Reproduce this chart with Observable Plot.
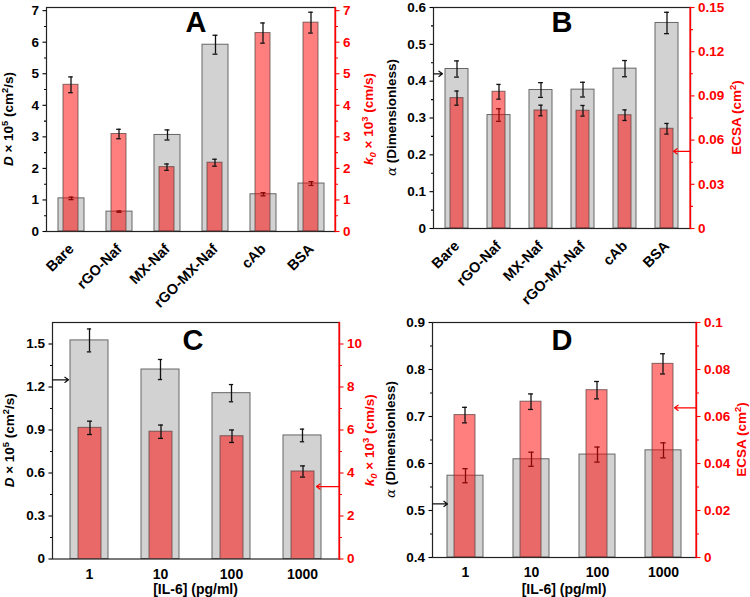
<!DOCTYPE html>
<html>
<head>
<meta charset="utf-8">
<script src="https://cdn.jsdelivr.net/npm/d3@7"></script>
<script src="https://cdn.jsdelivr.net/npm/@observablehq/plot@0.6"></script>
<style>
  body { margin: 0; background: #fff; }
  #fig { position: relative; width: 750px; height: 597px; overflow: hidden; background: #fff; }
  #fig svg { position: absolute; overflow: visible; }
</style>
</head>
<body>
<div id="fig"></div>
<script>
// ---- categories ----
const materials = ["Bare", "rGO-Naf", "MX-Naf", "rGO-MX-Naf", "cAb", "BSA"];
const il6Levels = ["1", "10", "100", "1000"];

// ---- A: D (x10^5 cm2/s) and k0 (x10^3 cm/s) per electrode stage ----
const diffusionA = [1.05, 0.63, 3.06, 5.92, 1.18, 1.52];
const diffusionAErr = [0.04, 0.02, 0.16, 0.30, 0.05, 0.06];
const k0A = [4.65, 3.09, 2.04, 2.18, 6.29, 6.62];
const k0AErr = [0.25, 0.15, 0.10, 0.11, 0.32, 0.33];

// ---- B: alpha and ECSA (cm2) per electrode stage ----
const alphaB = [0.433, 0.308, 0.376, 0.377, 0.434, 0.558];
const alphaBErr = [0.022, 0.017, 0.020, 0.020, 0.022, 0.029];
const ecsaB = [0.0885, 0.0928, 0.0801, 0.0799, 0.0769, 0.0677];
const ecsaBErr = [0.0048, 0.0050, 0.0036, 0.0036, 0.0036, 0.0036];

// ---- C: D and k0 versus IL-6 concentration ----
const diffusionC = [1.525, 1.322, 1.157, 0.862];
const diffusionCErr = [0.080, 0.070, 0.060, 0.044];
const k0C = [6.10, 5.92, 5.71, 4.07];
const k0CErr = [0.31, 0.31, 0.29, 0.26];

// ---- D: alpha and ECSA versus IL-6 concentration ----
const alphaD = [0.574, 0.609, 0.619, 0.628];
const alphaDErr = [0.015, 0.015, 0.016, 0.016];
const ecsaD = [0.0606, 0.0663, 0.0712, 0.0824];
const ecsaDErr = [0.0033, 0.0033, 0.0037, 0.0043];

// ---- axis ticks ----
const ticksA = [0, 1, 2, 3, 4, 5, 6, 7];
const minorA = [0.5, 1.5, 2.5, 3.5, 4.5, 5.5, 6.5];
const ticksBLeft = [0, 0.1, 0.2, 0.3, 0.4, 0.5, 0.6];
const minorBLeft = [0.05, 0.15, 0.25, 0.35, 0.45, 0.55];
const ticksBRight = [0, 0.03, 0.06, 0.09, 0.12, 0.15];
const minorBRight = [0.015, 0.045, 0.075, 0.105, 0.135];
const ticksCLeft = [0, 0.3, 0.6, 0.9, 1.2, 1.5];
const minorCLeft = [0.15, 0.45, 0.75, 1.05, 1.35];
const ticksCRight = [0, 2, 4, 6, 8, 10];
const minorCRight = [1, 3, 5, 7, 9];
const ticksDLeft = [0.4, 0.5, 0.6, 0.7, 0.8, 0.9];
const minorDLeft = [0.45, 0.55, 0.65, 0.75, 0.85];
const ticksDRight = [0, 0.02, 0.04, 0.06, 0.08, 0.1];
const minorDRight = [0.01, 0.03, 0.05, 0.07, 0.09];

// pointer arrows: which axis each series belongs to
const arrowsB = {left: 0.42, right: 0.0524};
const arrowsC = {left: 1.25, right: 3.37};
const arrowsD = {left: 0.514, right: 0.0637};

const FONT = "Arial, 'Liberation Sans', sans-serif";
const SERIF = "'DejaVu Serif', 'Liberation Serif', serif";
const fig = document.getElementById("fig");

// small open arrowhead of fixed size
const arrowShape = {
  draw(context, l) {
    context.moveTo(0, 0);
    context.lineTo(0, -l);
    context.moveTo(-2.6, 3.6 - l);
    context.lineTo(0, -l);
    context.lineTo(2.6, 3.6 - l);
  }
};

function errorMarks(rows, inset, stroke) {
  const o = {x: "c", stroke, strokeWidth: 1.3};
  return [
    Plot.ruleX(rows, {...o, y1: d => d.v - d.e, y2: d => d.v + d.e}),
    Plot.tickY(rows, {...o, y: d => d.v + d.e, insetLeft: inset, insetRight: inset}),
    Plot.tickY(rows, {...o, y: d => d.v - d.e, insetLeft: inset, insetRight: inset})
  ];
}

function richText(svg, {x, y, rotate = 0, fill = "#000", size = 13.5, parts}) {
  const t = d3.select(svg).append("text")
    .attr("transform", `translate(${x},${y}) rotate(${rotate})`)
    .attr("text-anchor", "middle")
    .attr("fill", fill)
    .attr("font-family", FONT)
    .attr("font-size", size)
    .attr("font-weight", "bold");
  let shift = 0;
  for (const p of parts) {
    const s = t.append("tspan").text(p.t);
    const target = p.sup ? -size * 0.4 : p.sub ? size * 0.25 : 0;
    if (target !== shift) { s.attr("dy", target - shift); shift = target; }
    if (p.sup || p.sub) s.attr("font-size", size * 0.7);
    if (p.italic) s.attr("font-style", "italic");
    if (p.serif) s.attr("font-family", SERIF).attr("font-weight", "normal");
  }
  return t;
}

function drawPanel(p) {
  const {left, top, width, height, m, cats} = p;
  const plotW = width - m.left - m.right;
  const step = plotW / cats.length;
  const cap = 5;
  const grayRows = cats.map((c, i) => ({c, v: p.gray[i], e: p.grayErr[i]}));
  const redRows = cats.map((c, i) => ({c, v: p.red[i], e: p.redErr[i]}));
  const common = {
    width, height,
    marginTop: m.top, marginRight: m.right, marginBottom: m.bottom, marginLeft: m.left,
    style: {background: "transparent", overflow: "visible", fontFamily: FONT, fontWeight: "bold", fontSize: "13.5px", color: "#000"}
  };

  // back layer: grey series on the left axis
  const back = Plot.plot({
    ...common,
    x: {type: "band", domain: cats, paddingInner: 0.46, paddingOuter: 0.23},
    y: {domain: p.leftDomain},
    marks: [
      Plot.barY(grayRows, {x: "c", y1: p.leftDomain[0], y2: "v", fill: "#d2d2d2", stroke: "#666", strokeWidth: 1}),
      ...errorMarks(grayRows, (step * 0.54 - cap) / 2, "#111"),
      Plot.frame({stroke: "#222", strokeWidth: 1.2}),
      Plot.axisY({ticks: p.leftTicks, tickSize: 3.5, tickPadding: 4, tickFormat: d => String(d), label: null, strokeWidth: 1.1}),
      Plot.axisY({ticks: p.leftMinor, tickSize: 2, tickFormat: () => "", label: null, strokeWidth: 1.1}),
      Plot.axisX({tickSize: 0, tickPadding: p.xPad, tickRotate: p.xRotate, label: null, fontSize: p.xFont}),
      p.arrows ? Plot.vector([p.arrows.left], {y: d => d, frameAnchor: "left", rotate: 90, length: p.arrowLen[0], anchor: "start", shape: arrowShape, stroke: "#111", strokeWidth: 1.2}) : null
    ].filter(Boolean)
  });

  // front layer: translucent red series on the right axis
  const front = Plot.plot({
    ...common,
    x: {type: "band", domain: cats, paddingInner: 0.68, paddingOuter: 0.34, axis: null},
    y: {domain: p.rightDomain},
    marks: [
      Plot.barY(redRows, {x: "c", y1: p.rightDomain[0], y2: "v", fill: "#ff0000", fillOpacity: 0.5, stroke: "#5a4040", strokeOpacity: 0.75, strokeWidth: 1}),
      ...errorMarks(redRows, (step * 0.32 - cap) / 2, "#111"),
      Plot.frame({stroke: "#ff0000", strokeWidth: 1.2, insetLeft: plotW - 0.5}),
      Plot.axisY({anchor: "right", ticks: p.rightTicks, tickSize: 3.5, tickPadding: 4, tickFormat: d => String(d), label: null, stroke: "#ff0000", fill: "#ff0000", strokeWidth: 1.1}),
      Plot.axisY({anchor: "right", ticks: p.rightMinor, tickSize: 2, tickFormat: () => "", label: null, stroke: "#ff0000", strokeWidth: 1.1}),
      p.arrows ? Plot.vector([p.arrows.right], {y: d => d, frameAnchor: "right", rotate: -90, length: p.arrowLen[1], anchor: "start", shape: arrowShape, stroke: "#ff0000", strokeWidth: 1.2}) : null
    ].filter(Boolean)
  });

  for (const svg of [back, front]) {
    svg.style.left = left + "px";
    svg.style.top = top + "px";
    fig.appendChild(svg);
  }

  const midY = m.top + (height - m.top - m.bottom) / 2;
  // panel letter
  d3.select(front).append("text")
    .attr("x", p.letterX).attr("y", p.letterY)
    .attr("text-anchor", "middle")
    .attr("font-family", FONT).attr("font-size", 29).attr("font-weight", "bold")
    .attr("fill", "#000").text(p.letter);
  // axis titles
  richText(front, {x: p.leftTitleX, y: midY, rotate: -90, fill: "#000", parts: p.leftTitle});
  richText(front, {x: p.rightTitleX, y: midY, rotate: -90, fill: "#ff0000", parts: p.rightTitle});
  if (p.xTitle) {
    richText(front, {x: m.left + plotW / 2, y: p.xTitleY, size: 14, parts: p.xTitle});
  }
}

const dTitle = [{t: "D", italic: true}, {t: " × 10"}, {t: "5", sup: true}, {t: " (cm"}, {t: "2", sup: true}, {t: "/s)"}];
const kTitle = [{t: "k", italic: true}, {t: "0", sub: true, italic: true}, {t: " × 10"}, {t: "3", sup: true}, {t: " (cm/s)"}];
const aTitle = [{t: "α", italic: true, serif: true}, {t: " (Dimensionless)"}];
const eTitle = [{t: "ECSA (cm"}, {t: "2", sup: true}, {t: ")"}];
const xTitle = [{t: "[IL-6] (pg/ml)"}];

drawPanel({
  left: 0, top: 0, width: 375, height: 300,
  m: {top: 7, right: 40, bottom: 69, left: 46},
  cats: materials,
  gray: diffusionA, grayErr: diffusionAErr, red: k0A, redErr: k0AErr,
  leftDomain: [0, 7.1], rightDomain: [0, 7.1],
  leftTicks: ticksA, leftMinor: minorA, rightTicks: ticksA, rightMinor: minorA,
  xRotate: -45, xPad: 15, xFont: 14.5,
  letter: "A", letterX: 196, letterY: 32,
  leftTitle: dTitle, leftTitleX: 13, rightTitle: kTitle, rightTitleX: 373
});

drawPanel({
  left: 375, top: 0, width: 375, height: 300,
  m: {top: 7, right: 60, bottom: 72, left: 58},
  cats: materials,
  gray: alphaB, grayErr: alphaBErr, red: ecsaB, redErr: ecsaBErr,
  leftDomain: [0, 0.6], rightDomain: [0, 0.15],
  leftTicks: ticksBLeft, leftMinor: minorBLeft, rightTicks: ticksBRight, rightMinor: minorBRight,
  xRotate: -45, xPad: 15, xFont: 14.5,
  arrows: arrowsB, arrowLen: [9, 17],
  letter: "B", letterX: 187, letterY: 32,
  leftTitle: aTitle, leftTitleX: 21, rightTitle: eTitle, rightTitleX: 366
});

drawPanel({
  left: 0, top: 300, width: 375, height: 297,
  m: {top: 22, right: 36, bottom: 38.5, left: 52},
  cats: il6Levels,
  gray: diffusionC, grayErr: diffusionCErr, red: k0C, redErr: k0CErr,
  leftDomain: [0, 1.65], rightDomain: [0, 11],
  leftTicks: ticksCLeft, leftMinor: minorCLeft, rightTicks: ticksCRight, rightMinor: minorCRight,
  xRotate: 0, xPad: 10, xFont: 14,
  arrows: arrowsC, arrowLen: [16, 23],
  letter: "C", letterX: 193, letterY: 50,
  leftTitle: dTitle, leftTitleX: 14, rightTitle: kTitle, rightTitleX: 374,
  xTitle, xTitleY: 294
});

drawPanel({
  left: 375, top: 300, width: 375, height: 297,
  m: {top: 22, right: 54, bottom: 40, left: 57},
  cats: il6Levels,
  gray: alphaD, grayErr: alphaDErr, red: ecsaD, redErr: ecsaDErr,
  leftDomain: [0.4, 0.9], rightDomain: [0, 0.1],
  leftTicks: ticksDLeft, leftMinor: minorDLeft, rightTicks: ticksDRight, rightMinor: minorDRight,
  xRotate: 0, xPad: 10, xFont: 14,
  arrows: arrowsD, arrowLen: [15, 22],
  letter: "D", letterX: 187, letterY: 50,
  leftTitle: aTitle, leftTitleX: 20, rightTitle: eTitle, rightTitleX: 371,
  xTitle, xTitleY: 294
});
</script>
</body>
</html>
